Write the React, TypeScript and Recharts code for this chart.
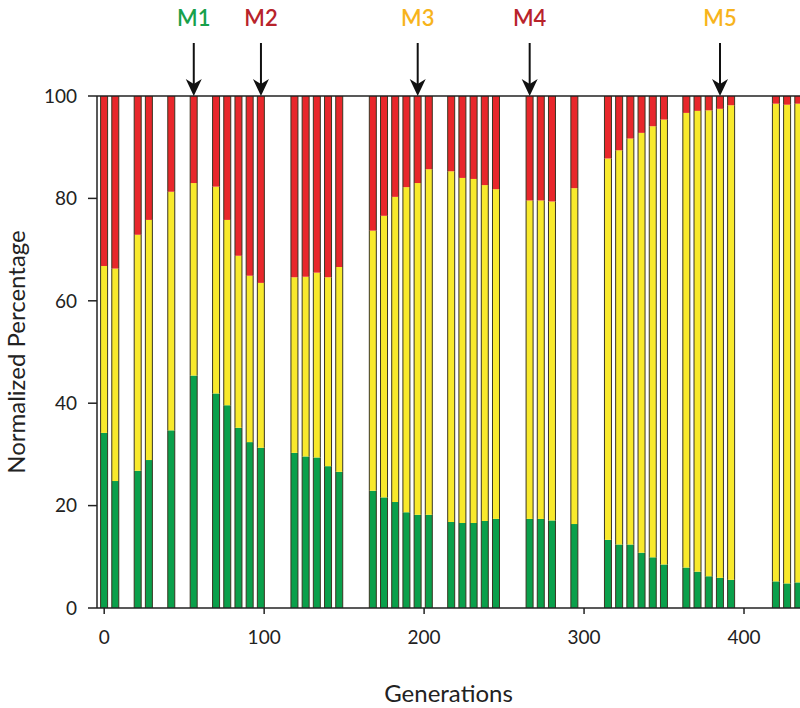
import React from "react"
import {
  Bar,
  BarChart,
  ReferenceDot,
  ReferenceLine,
  XAxis,
  YAxis,
} from "recharts"

// generations sampled (every 7 generations, with gaps)
const generations = [
  0, 7, 21, 28, 42, 56, 70, 77, 84, 91, 98,
  119, 126, 133, 140, 147,
  168, 175, 182, 189, 196, 203,
  217, 224, 231, 238, 245,
  266, 273, 280, 294,
  315, 322, 329, 336, 343, 350,
  364, 371, 378, 385, 392,
  420, 427, 434,
]

const greenPct = [
  34.2, 24.8, 26.8, 28.9, 34.7, 45.4, 41.9, 39.6, 35.2, 32.4, 31.3,
  30.3, 29.6, 29.4, 27.7, 26.6,
  22.9, 21.6, 20.7, 18.7, 18.2, 18.2,
  16.8, 16.6, 16.6, 17.0, 17.4,
  17.4, 17.4, 17.1, 16.4,
  13.3, 12.4, 12.4, 10.8, 9.9, 8.5,
  7.9, 7.1, 6.2, 5.9, 5.5,
  5.2, 4.8, 5.0,
]

const yellowPct = [
  32.6, 41.5, 46.1, 46.9, 46.6, 37.6, 40.4, 36.2, 33.6, 32.5, 32.2,
  34.3, 35.1, 36.1, 36.9, 40.0,
  50.8, 55.0, 59.6, 63.5, 64.8, 67.5,
  68.5, 67.4, 67.2, 65.6, 64.4,
  62.2, 62.2, 62.3, 65.6,
  74.5, 77.0, 79.3, 82.0, 84.2, 86.9,
  88.8, 90.0, 91.0, 91.6, 92.7,
  93.3, 93.5, 93.5,
]

const redPct = [
  33.2, 33.7, 27.1, 24.2, 18.7, 17.0, 17.7, 24.2, 31.2, 35.1, 36.5,
  35.4, 35.3, 34.5, 35.4, 33.4,
  26.3, 23.4, 19.7, 17.8, 17.0, 14.3,
  14.7, 16.0, 16.2, 17.4, 18.2,
  20.4, 20.4, 20.6, 18.0,
  12.2, 10.6, 8.3, 7.2, 5.9, 4.6,
  3.3, 2.9, 2.8, 2.5, 1.8,
  1.5, 1.7, 1.5,
]

const xTicks = [0, 100, 200, 300, 400]
const yTicks = [0, 20, 40, 60, 80, 100]

const markerLabels = ["M1", "M2", "M3", "M4", "M5"]
const markerGens = [56, 98, 196, 266, 385]
const markerColors = ["#17a04b", "#b8232b", "#f7b41c", "#b8232b", "#f7b41c"]

const data = generations.map((gen, i) => ({
  gen,
  green: greenPct[i],
  yellow: yellowPct[i],
  red: redPct[i],
}))

const FONT = "Lato, 'Open Sans', sans-serif"
const EDGE = "#3a3522"

// fill plus left/right edges only, so stacked segments don't get dividers
const Segment = (props: any) => {
  const { x, y, width, height, fill } = props
  if (!height || height <= 0) return null
  return (
    <g>
      <rect x={x} y={y} width={width} height={height} fill={fill} />
      <line x1={x} y1={y} x2={x} y2={y + height} stroke={EDGE} strokeWidth={1} />
      <line x1={x + width} y1={y} x2={x + width} y2={y + height} stroke={EDGE} strokeWidth={1} />
    </g>
  )
}

const Marker = (label: string, color: string) => (props: any) => {
  const { cx, cy } = props
  return (
    <g>
      <text
        x={cx}
        y={cy - 76}
        textAnchor="middle"
        dominantBaseline="middle"
        fill={color}
        fontFamily={FONT}
        fontSize={22}
        fontWeight={600}
      >
        {label}
      </text>
      <line x1={cx} y1={cy - 53} x2={cx} y2={cy - 12} stroke="#111" strokeWidth={2} />
      <polygon
        points={`${cx - 8},${cy - 17} ${cx},${cy - 12} ${cx + 8},${cy - 17} ${cx},${cy}`}
        fill="#111"
      />
    </g>
  )
}

export default function App() {
  return (
    <div style={{ width: 800, height: 708, background: "#fff" }}>
      <style>{"body{margin:0}"}</style>
      <BarChart
        width={800}
        height={708}
        data={data}
        barSize={7}
        margin={{ top: 96, right: 0, left: 0, bottom: 0 }}
      >
        <XAxis
          dataKey="gen"
          type="number"
          domain={[-4.5, 435]}
          ticks={xTicks}
          height={100}
          tickSize={6}
          tickMargin={17}
          axisLine={{ stroke: "#222", strokeWidth: 1.5 }}
          tickLine={{ stroke: "#222", strokeWidth: 1.5 }}
          tick={{ fill: "#222", fontSize: 19, fontFamily: FONT }}
          label={{
            value: "Generations",
            position: "insideBottom",
            offset: 6,
            style: { fill: "#222", fontSize: 24, fontFamily: FONT },
          }}
        />
        <YAxis
          type="number"
          domain={[0, 100]}
          ticks={yTicks}
          width={97}
          tickSize={9}
          tickMargin={11}
          axisLine={{ stroke: "#222", strokeWidth: 1.5 }}
          tickLine={{ stroke: "#222", strokeWidth: 1.5 }}
          tick={{ fill: "#222", fontSize: 19, fontFamily: FONT }}
          label={{
            value: "Normalized Percentage",
            angle: -90,
            position: "insideLeft",
            offset: 16,
            style: { fill: "#222", fontSize: 24, fontFamily: FONT, textAnchor: "middle" },
          }}
        />
        <Bar dataKey="green" stackId="a" fill="#0aa04b" shape={Segment} isAnimationActive={false} />
        <Bar dataKey="yellow" stackId="a" fill="#f8e92c" shape={Segment} isAnimationActive={false} />
        <Bar dataKey="red" stackId="a" fill="#e8272b" shape={Segment} isAnimationActive={false} />
        <ReferenceLine y={100} stroke="#222" strokeWidth={1.5} />
        {markerGens.map((g, i) => (
          <ReferenceDot
            key={markerLabels[i]}
            x={g}
            y={100}
            ifOverflow="visible"
            shape={Marker(markerLabels[i], markerColors[i])}
          />
        ))}
      </BarChart>
    </div>
  )
}
